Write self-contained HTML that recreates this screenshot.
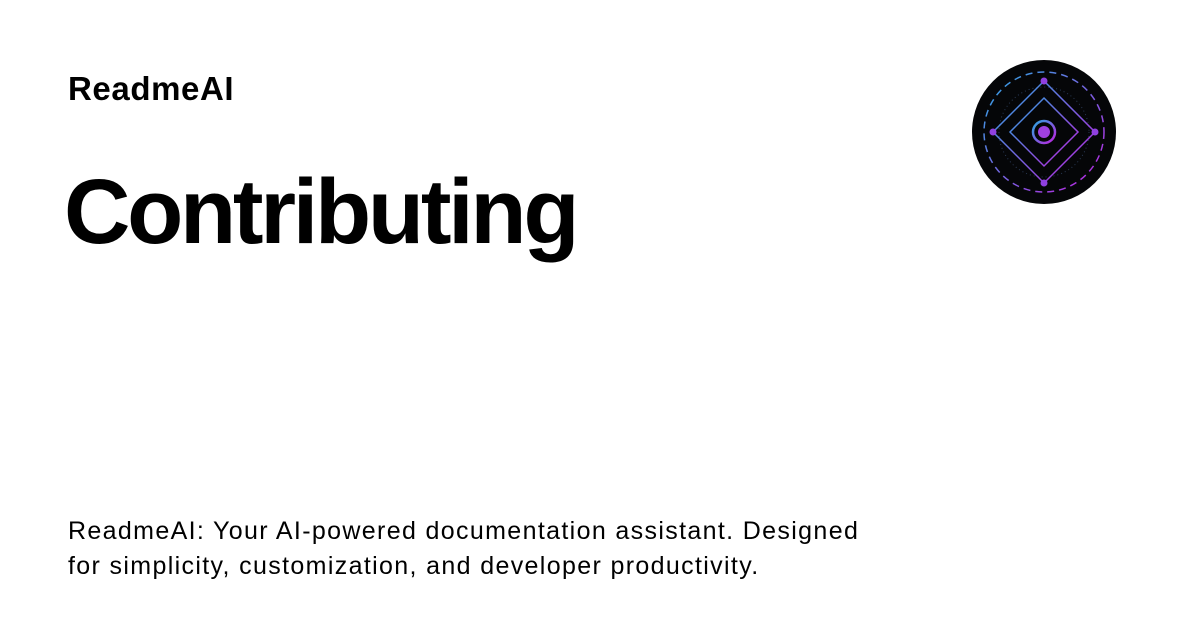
<!DOCTYPE html>
<html><head><style>
body{margin:0;width:1200px;height:630px;background:#fff;font-family:"Liberation Sans",sans-serif;color:#000;position:relative;overflow:hidden}
.a{position:absolute;left:68px;top:70px;font-size:33px;font-weight:bold;letter-spacing:0.6px}
.t{position:absolute;left:64px;top:160px;font-size:92px;font-weight:bold;letter-spacing:-3.3px}
.d{position:absolute;left:68px;top:514px;font-size:25px;line-height:35px;letter-spacing:1.35px}
svg{position:absolute;left:0;top:0}
</style></head><body>
<div class="a">ReadmeAI</div>
<div class="t">Contributing</div>
<div class="d">ReadmeAI: Your AI-powered documentation assistant. Designed<br>for simplicity, customization, and developer productivity.</div>
<svg width="1200" height="630">
<defs><linearGradient id="g" x1="0" y1="0" x2="1" y2="1"><stop offset="0" stop-color="#29a8e0"/><stop offset="1" stop-color="#c020e0"/></linearGradient></defs>
<circle cx="1044" cy="132" r="72" fill="#050608"/>
<circle cx="1044" cy="132" r="60" fill="none" stroke="url(#g)" stroke-width="1.5" stroke-dasharray="7 5"/>
<circle cx="1044" cy="132" r="45" fill="none" stroke="#2a3a55" stroke-width="1" stroke-dasharray="1 3"/>
<polygon points="1044,81 1095,132 1044,183 993,132" fill="none" stroke="url(#g)" stroke-width="1.5"/>
<polygon points="1044,98 1078,132 1044,166 1010,132" fill="none" stroke="url(#g)" stroke-width="1.5"/>
<line x1="1044" y1="81" x2="1044" y2="183" stroke="url(#g)" stroke-width="1.2"/>
<line x1="993" y1="132" x2="1095" y2="132" stroke="url(#g)" stroke-width="1.2"/>
<circle cx="1044" cy="132" r="11" fill="#050608" stroke="url(#g)" stroke-width="2.5"/>
<circle cx="1044" cy="132" r="6" fill="#a040e0"/>
<circle cx="1044" cy="81" r="3.5" fill="#9040e0"/><circle cx="1044" cy="183" r="3.5" fill="#9040e0"/>
<circle cx="993" cy="132" r="3.5" fill="#9040e0"/><circle cx="1095" cy="132" r="3.5" fill="#9040e0"/>
</svg>
</body></html>
